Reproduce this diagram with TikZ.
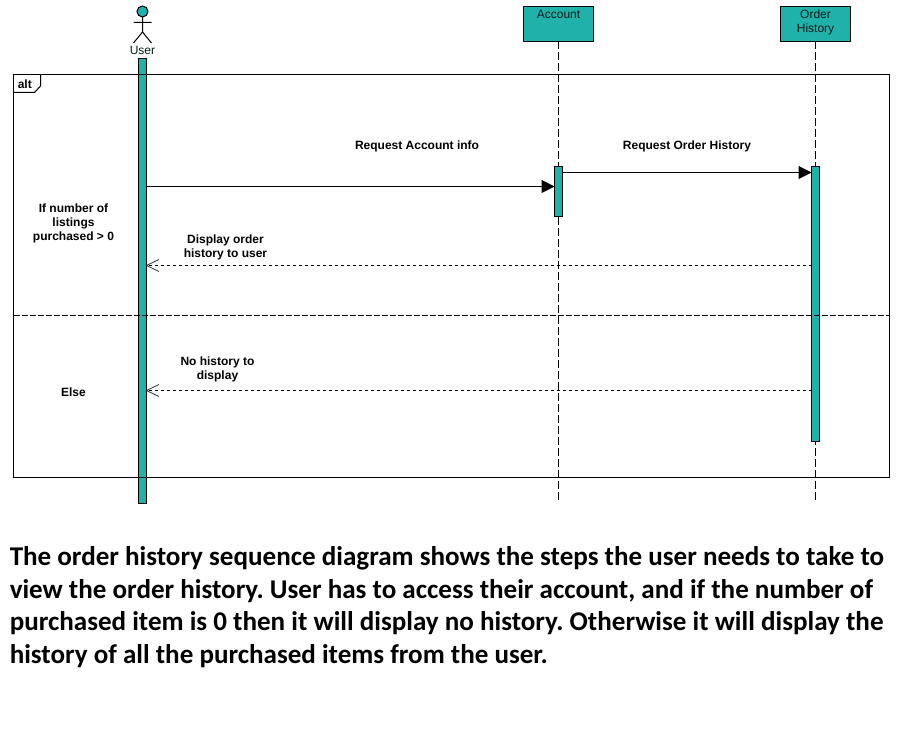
\documentclass[tikz,border=0pt]{standalone}
\usepackage{fontspec}
\setmainfont{Liberation Sans}
\newfontfamily\capfont{Carlito}
\usetikzlibrary{arrows.meta}
\definecolor{teal1}{HTML}{20B2AA}
\tikzset{
 x=0.75pt,y=-0.75pt,
 line/.style={line width=0.75pt,black},
 headbox/.style={line,draw,fill=teal1,minimum width=52.5pt,minimum height=26.25pt,inner sep=0pt,outer sep=0pt},
 headtxt/.style={font=\fontsize{9}{10.5}\selectfont,align=center,text=black!85!teal1,inner sep=0pt},
 bar/.style={line,draw,fill=teal1,minimum width=6pt,inner sep=0pt,outer sep=0pt},
 lifeline/.style={line,dash pattern=on 6pt off 2.25pt},
 msg/.style={font=\bfseries\fontsize{9}{10.5}\selectfont,align=center,inner sep=0pt},
 call/.style={line,-{Triangle[length=9.75pt,width=9.75pt]}},
 replyd/.style={line,dash pattern=on 2.25pt off 2.25pt},
 barb/.style={line,line width=0.6pt,black!80},
}
\begin{document}
\begin{tikzpicture}
\useasboundingbox (0,0) rectangle (918,755);
% heads
\node[headbox] (acc) at (558.5,24) {};
\node[headbox] (ord) at (815.5,24) {};
\node[headtxt,anchor=north] (acct) at (558.5,9.7) {Account};
\node[headtxt,anchor=north] (ordt) at (815.5,9.7) {Order\\History};
% lifelines
\coordinate (accend) at (558.5,501);
\coordinate (ordend) at (815.5,501);
\draw[lifeline] (acc.south) -- (accend);
\draw[lifeline] (ord.south) -- (ordend);
% activation bars
\node[bar,minimum height=333.75pt] (ubar) at (142.5,281) {};
\node[bar,minimum height=37.5pt] (abar) at (558.5,191.5) {};
\node[bar,minimum height=205.9pt] (obar) at (815.5,303.75) {};
% actor
\node[line,draw,fill=teal1,circle,minimum size=8.25pt,inner sep=0pt,outer sep=0pt] (head) at (142.5,11.5) {};
\coordinate (hip) at (142.5,32);
\coordinate (larm) at (133.5,22.5);
\coordinate (rarm) at (151.5,22.5);
\coordinate (lfoot) at (133.5,43);
\coordinate (rfoot) at (151.5,43);
\draw[line] (head.south) -- (hip) (larm) -- (rarm) (lfoot) -- (hip) -- (rfoot);
\node[headtxt] (user) at (142.5,50) {User};
% frame
\node[line,draw,minimum width=657pt,minimum height=302.25pt,inner sep=0pt,outer sep=0pt] (frame) at (451.5,276) {};
\coordinate (tabtop) at (40.5,74.5);
\coordinate (tableft) at (13.5,92.5);
\draw[line,fill=white] (tabtop) -- (40.5,86) -- (34.5,92.5) -- (tableft);
\node[msg,font=\bfseries\fontsize{9}{10.5}\selectfont,anchor=west] (alt) at (17.5,84) {alt};
\coordinate (divl) at (13.5,315.5);
\coordinate (divr) at (889.5,315.5);
\draw[line,dash pattern=on 4.5pt off 1.5pt] (divl) -- (divr);
% messages
\draw[call] (ubar.east |- 0,186.5) -- (abar.west |- 0,186.5);
\draw[call] (abar.east |- 0,172.5) -- (obar.west |- 0,172.5);
\draw[replyd] (obar.west |- 0,265.5) -- (ubar.east |- 0,265.5);
\draw[replyd] (obar.west |- 0,390.5) -- (ubar.east |- 0,390.5);
\draw[barb] (159,259.5) -- (ubar.east |- 0,265.5) -- (159,271.5);
\draw[barb] (159,384.5) -- (ubar.east |- 0,390.5) -- (159,396.5);
% labels
\node[msg] (l1) at (417,146) {Request Account info};
\node[msg] (l2) at (687,146) {Request Order History};
\node[msg] (l3) at (73.5,223) {If number of\\listings\\purchased > 0};
\node[msg] (l4) at (225.5,247) {Display order\\history to user};
\node[msg] (l5) at (217.5,369) {No history to\\display};
\node[msg] (l6) at (73.5,392.5) {Else};
% caption
\node[anchor=north west,inner sep=0pt,align=left,font=\capfont\bfseries\fontsize{20.3}{24.6}\selectfont\frenchspacing] (cap) at (9.5,546) {The order history sequence diagram shows the steps the user needs to take to\\view the order history. User has to access their account, and if the number of\\purchased item is 0 then it will display no history. Otherwise it will display the\\history of all the purchased items from the user.};
\end{tikzpicture}
\end{document}
